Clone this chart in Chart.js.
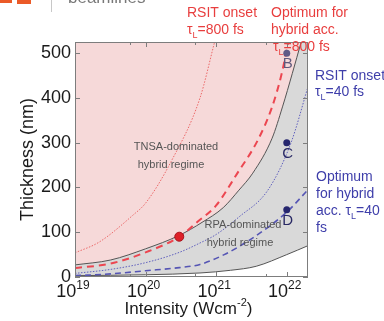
<!DOCTYPE html>
<html>
<head>
<meta charset="utf-8">
<script src="https://cdn.jsdelivr.net/npm/chart.js@4"></script>
<style>
  html, body { margin: 0; padding: 0; background: #fff; }
  #wrap { width: 384px; height: 321px; }
</style>
</head>
<body>
<div id="wrap"><canvas id="myChart" width="384" height="321"></canvas></div>
<script>
// intensity in W/cm2, thickness in nm
const upperI = [1e19, 3.2e19, 1e20, 3e20, 6.3e20, 1.26e21, 2.1e21, 3.3e21, 6.2e21, 8.7e21, 1.2e22, 1.6e22];
const upperT = [27, 38, 63, 93, 122, 155, 194, 232, 310, 380, 455, 525];

const lowerI = [1e19, 1e20, 5.9e20, 1.6e21, 3.7e21, 1e22, 2e22];
const lowerT = [3, 5, 9, 15, 24, 50, 70];

const rsit800I = [1e19, 2.2e19, 6.6e19, 1e20, 2.3e20, 5.9e20, 9.5e20];
const rsit800T = [54, 78, 138, 165, 258, 400, 525];

const opt800I = [1e19, 3.2e19, 1e20, 3e20, 5.6e20, 1e21, 2e21, 3.9e21, 6.2e21, 8.5e21, 1.05e22];
const opt800T = [20, 30, 55, 90, 125, 160, 232, 306, 380, 455, 525];

const rsit40I = [1e19, 3.2e19, 1e20, 3e20, 5.9e20, 1e21, 2.1e21, 5.4e21, 1.15e22, 2e22];
const rsit40T = [8, 17, 32, 55, 76, 95, 134, 194, 300, 425];

const opt40I = [1e19, 3.2e19, 1e20, 3e20, 5.9e20, 1.3e21, 3e21, 1e22, 2e22];
const opt40T = [3, 7, 14, 21, 28, 50, 83, 145, 195];

const caseLabels = ['B', 'C', 'D'];
const caseI = [1e22, 1e22, 1e22];
const caseT = [500, 300, 150];

const redPointI = [3e20];
const redPointT = [90];

const xTickValues = [1e19, 1e20, 1e21, 1e22];
const xTickExp = ['19', '20', '21', '22'];
const yTickValues = [0, 100, 200, 300, 400, 500];

const FONT = '"Liberation Sans", Arial, sans-serif';
const PINK = 'rgb(246,217,217)';
const GRAY = 'rgb(217,217,217)';
const RED = 'rgb(232,62,62)';
const BLUE = 'rgb(62,62,170)';

function pts(xs, ys) {
  return xs.map(function(x, i) { return {x: x, y: ys[i]}; });
}

function drawParts(ctx, parts, x, y, size, color, align) {
  var widths = parts.map(function(p) {
    ctx.font = (p[1] === 'n' ? size : Math.round(size * 0.65)) + 'px ' + FONT;
    return ctx.measureText(p[0]).width;
  });
  var total = widths.reduce(function(a, b) { return a + b; }, 0);
  var cx = align === 'center' ? x - total / 2 : x;
  ctx.fillStyle = color;
  ctx.textAlign = 'left';
  ctx.textBaseline = 'alphabetic';
  parts.forEach(function(p, i) {
    ctx.font = (p[1] === 'n' ? size : Math.round(size * 0.65)) + 'px ' + FONT;
    var dy = p[1] === 'sup' ? -size * 0.45 : (p[1] === 'sub' ? size * 0.25 : 0);
    ctx.fillText(p[0], cx, y + dy);
    cx += widths[i];
  });
}

const decor = {
  id: 'decor',
  beforeDraw(chart) {
    const ctx = chart.ctx, a = chart.chartArea;
    ctx.save();
    ctx.fillStyle = '#fff';
    ctx.fillRect(0, 0, chart.width, chart.height);
    ctx.fillStyle = GRAY;
    ctx.fillRect(a.left, a.top, a.right - a.left, a.bottom - a.top);
    ctx.restore();
  },
  afterDatasetsDraw(chart) {
    const ctx = chart.ctx, a = chart.chartArea;
    const xs = chart.scales.x, ys = chart.scales.y;
    ctx.save();
    ctx.strokeStyle = 'rgb(125,125,125)';
    ctx.lineWidth = 1;
    ctx.strokeRect(a.left + 0.5, a.top + 0.5, a.right - a.left - 1, a.bottom - a.top - 1);
    // inward ticks
    ctx.beginPath();
    xs.ticks.forEach(function(t) {
      var px = Math.round(xs.getPixelForValue(t.value)) + 0.5;
      var major = xTickValues.indexOf(t.value) >= 0;
      var len = major ? 5 : 3;
      ctx.moveTo(px, a.bottom); ctx.lineTo(px, a.bottom - len);
      ctx.moveTo(px, a.top); ctx.lineTo(px, a.top + len);
    });
    yTickValues.forEach(function(v) {
      var py = Math.round(ys.getPixelForValue(v)) + 0.5;
      ctx.moveTo(a.left, py); ctx.lineTo(a.left + 5, py);
      ctx.moveTo(a.right, py); ctx.lineTo(a.right - 5, py);
    });
    ctx.stroke();
    ctx.restore();
  },
  afterDraw(chart) {
    const ctx = chart.ctx, a = chart.chartArea;
    const xs = chart.scales.x, ys = chart.scales.y;
    ctx.save();
    // y tick labels
    ctx.fillStyle = '#1a1a1a';
    ctx.font = '18px ' + FONT;
    ctx.textAlign = 'right';
    ctx.textBaseline = 'middle';
    yTickValues.forEach(function(v) {
      ctx.fillText(String(v), a.left - 4, ys.getPixelForValue(v));
    });
    // x tick labels
    xTickValues.forEach(function(v, i) {
      drawParts(ctx, [['10', 'n'], [xTickExp[i], 'sup']], xs.getPixelForValue(v) - 2, 297, 18, '#1a1a1a', 'center');
    });
    // axis titles
    drawParts(ctx, [['Intensity (Wcm', 'n'], ['-2', 'sup'], [')', 'n']], (a.left + a.right) / 2 - 3, 314, 17, '#1a1a1a', 'center');
    ctx.save();
    ctx.translate(33, (a.top + a.bottom) / 2);
    ctx.rotate(-Math.PI / 2);
    drawParts(ctx, [['Thickness (nm)', 'n']], 0, 0, 18, '#1a1a1a', 'center');
    ctx.restore();

    // regime labels
    drawParts(ctx, [['TNSA-dominated', 'n']], 176, 150, 11, 'rgb(85,85,85)', 'center');
    drawParts(ctx, [['hybrid regime', 'n']], 171, 168, 11, 'rgb(85,85,85)', 'center');
    drawParts(ctx, [['RPA-dominated', 'n']], 243, 228, 11, 'rgb(85,85,85)', 'center');
    drawParts(ctx, [['hybrid regime', 'n']], 240, 246, 11, 'rgb(85,85,85)', 'center');

    // case labels under the points
    caseLabels.forEach(function(l, i) {
      var px = xs.getPixelForValue(caseI[i]);
      var py = ys.getPixelForValue(caseT[i]);
      drawParts(ctx, [[l, 'n']], px + 1, py + 15, 15, i === 0 ? 'rgb(95,90,125)' : 'rgb(40,40,100)', 'center');
    });

    // curve annotations
    drawParts(ctx, [['RSIT onset', 'n']], 187, 17, 14, RED, 'left');
    drawParts(ctx, [['\u03c4', 'n'], ['L', 'sub'], ['=800 fs', 'n']], 187, 34, 14, RED, 'left');
    drawParts(ctx, [['Optimum for', 'n']], 271, 17, 14, RED, 'left');
    drawParts(ctx, [['hybrid acc.', 'n']], 271, 34, 14, RED, 'left');
    drawParts(ctx, [['\u03c4', 'n'], ['L', 'sub'], ['=800 fs', 'n']], 273, 51, 14, RED, 'left');

    drawParts(ctx, [['RSIT onset', 'n']], 315, 80, 14, BLUE, 'left');
    drawParts(ctx, [['\u03c4', 'n'], ['L', 'sub'], ['=40 fs', 'n']], 315, 96, 14, BLUE, 'left');
    drawParts(ctx, [['Optimum', 'n']], 316, 181, 14, BLUE, 'left');
    drawParts(ctx, [['for hybrid', 'n']], 316, 198, 14, BLUE, 'left');
    drawParts(ctx, [['acc. \u03c4', 'n'], ['L', 'sub'], ['=40', 'n']], 316, 215, 14, BLUE, 'left');
    drawParts(ctx, [['fs', 'n']], 316, 232, 14, BLUE, 'left');

    // slide header remnants
    ctx.fillStyle = 'rgb(235,90,40)';
    ctx.fillRect(0, 0, 12, 3);
    ctx.fillRect(17, 0, 14, 4);
    ctx.fillStyle = 'rgb(200,200,200)';
    ctx.fillRect(51, 0, 1, 12);
    drawParts(ctx, [['beamlines', 'n']], 68, 3, 17, 'rgb(120,120,120)', 'left');
    ctx.restore();
  }
};

const ctx = document.getElementById('myChart').getContext('2d');
new Chart(ctx, {
  type: 'line',
  data: {
    datasets: [
      {
        label: 'red point',
        data: pts(redPointI, redPointT),
        showLine: false,
        pointRadius: 4.5,
        pointBackgroundColor: 'rgb(222,32,40)',
        pointBorderColor: 'rgb(170,20,30)',
        pointBorderWidth: 1,
        order: 0
      },
      {
        label: 'cases',
        data: pts(caseI, caseT),
        showLine: false,
        pointRadius: 3.5,
        pointBackgroundColor: ['rgb(95,90,135)', 'rgb(38,38,110)', 'rgb(38,38,110)'],
        pointBorderWidth: 0,
        order: 0
      },
      {
        label: 'RSIT onset 800 fs',
        data: pts(rsit800I, rsit800T),
        borderColor: 'rgb(236,105,105)',
        borderWidth: 1,
        borderDash: [1.5, 1.5],
        pointRadius: 0,
        cubicInterpolationMode: 'monotone',
        order: 2
      },
      {
        label: 'Optimum 800 fs',
        data: pts(opt800I, opt800T),
        borderColor: 'rgb(236,70,80)',
        borderWidth: 2,
        borderDash: [7, 5],
        pointRadius: 0,
        cubicInterpolationMode: 'monotone',
        order: 1
      },
      {
        label: 'RSIT onset 40 fs',
        data: pts(rsit40I, rsit40T),
        borderColor: 'rgb(95,95,190)',
        borderWidth: 1,
        borderDash: [1.5, 1.5],
        pointRadius: 0,
        cubicInterpolationMode: 'monotone',
        order: 2
      },
      {
        label: 'Optimum 40 fs',
        data: pts(opt40I, opt40T),
        borderColor: 'rgb(85,85,180)',
        borderWidth: 1.6,
        borderDash: [6, 4],
        pointRadius: 0,
        cubicInterpolationMode: 'monotone',
        order: 1
      },
      {
        label: 'upper boundary',
        data: pts(upperI, upperT),
        borderColor: 'rgb(85,85,85)',
        borderWidth: 1,
        backgroundColor: PINK,
        fill: 'end',
        pointRadius: 0,
        cubicInterpolationMode: 'monotone',
        order: 3
      },
      {
        label: 'lower boundary',
        data: pts(lowerI, lowerT),
        borderColor: 'rgb(85,85,85)',
        borderWidth: 1,
        backgroundColor: '#ffffff',
        fill: 'start',
        pointRadius: 0,
        cubicInterpolationMode: 'monotone',
        order: 3
      }
    ]
  },
  options: {
    responsive: false,
    animation: false,
    layout: { padding: { left: 75, top: 42, right: 76, bottom: 44 } },
    plugins: {
      legend: { display: false },
      tooltip: { enabled: false }
    },
    scales: {
      x: {
        type: 'logarithmic',
        min: 1e19,
        max: 2e22,
        display: false
      },
      y: {
        type: 'linear',
        min: 0,
        max: 525,
        display: false
      }
    }
  },
  plugins: [decor]
});
</script>
</body>
</html>
